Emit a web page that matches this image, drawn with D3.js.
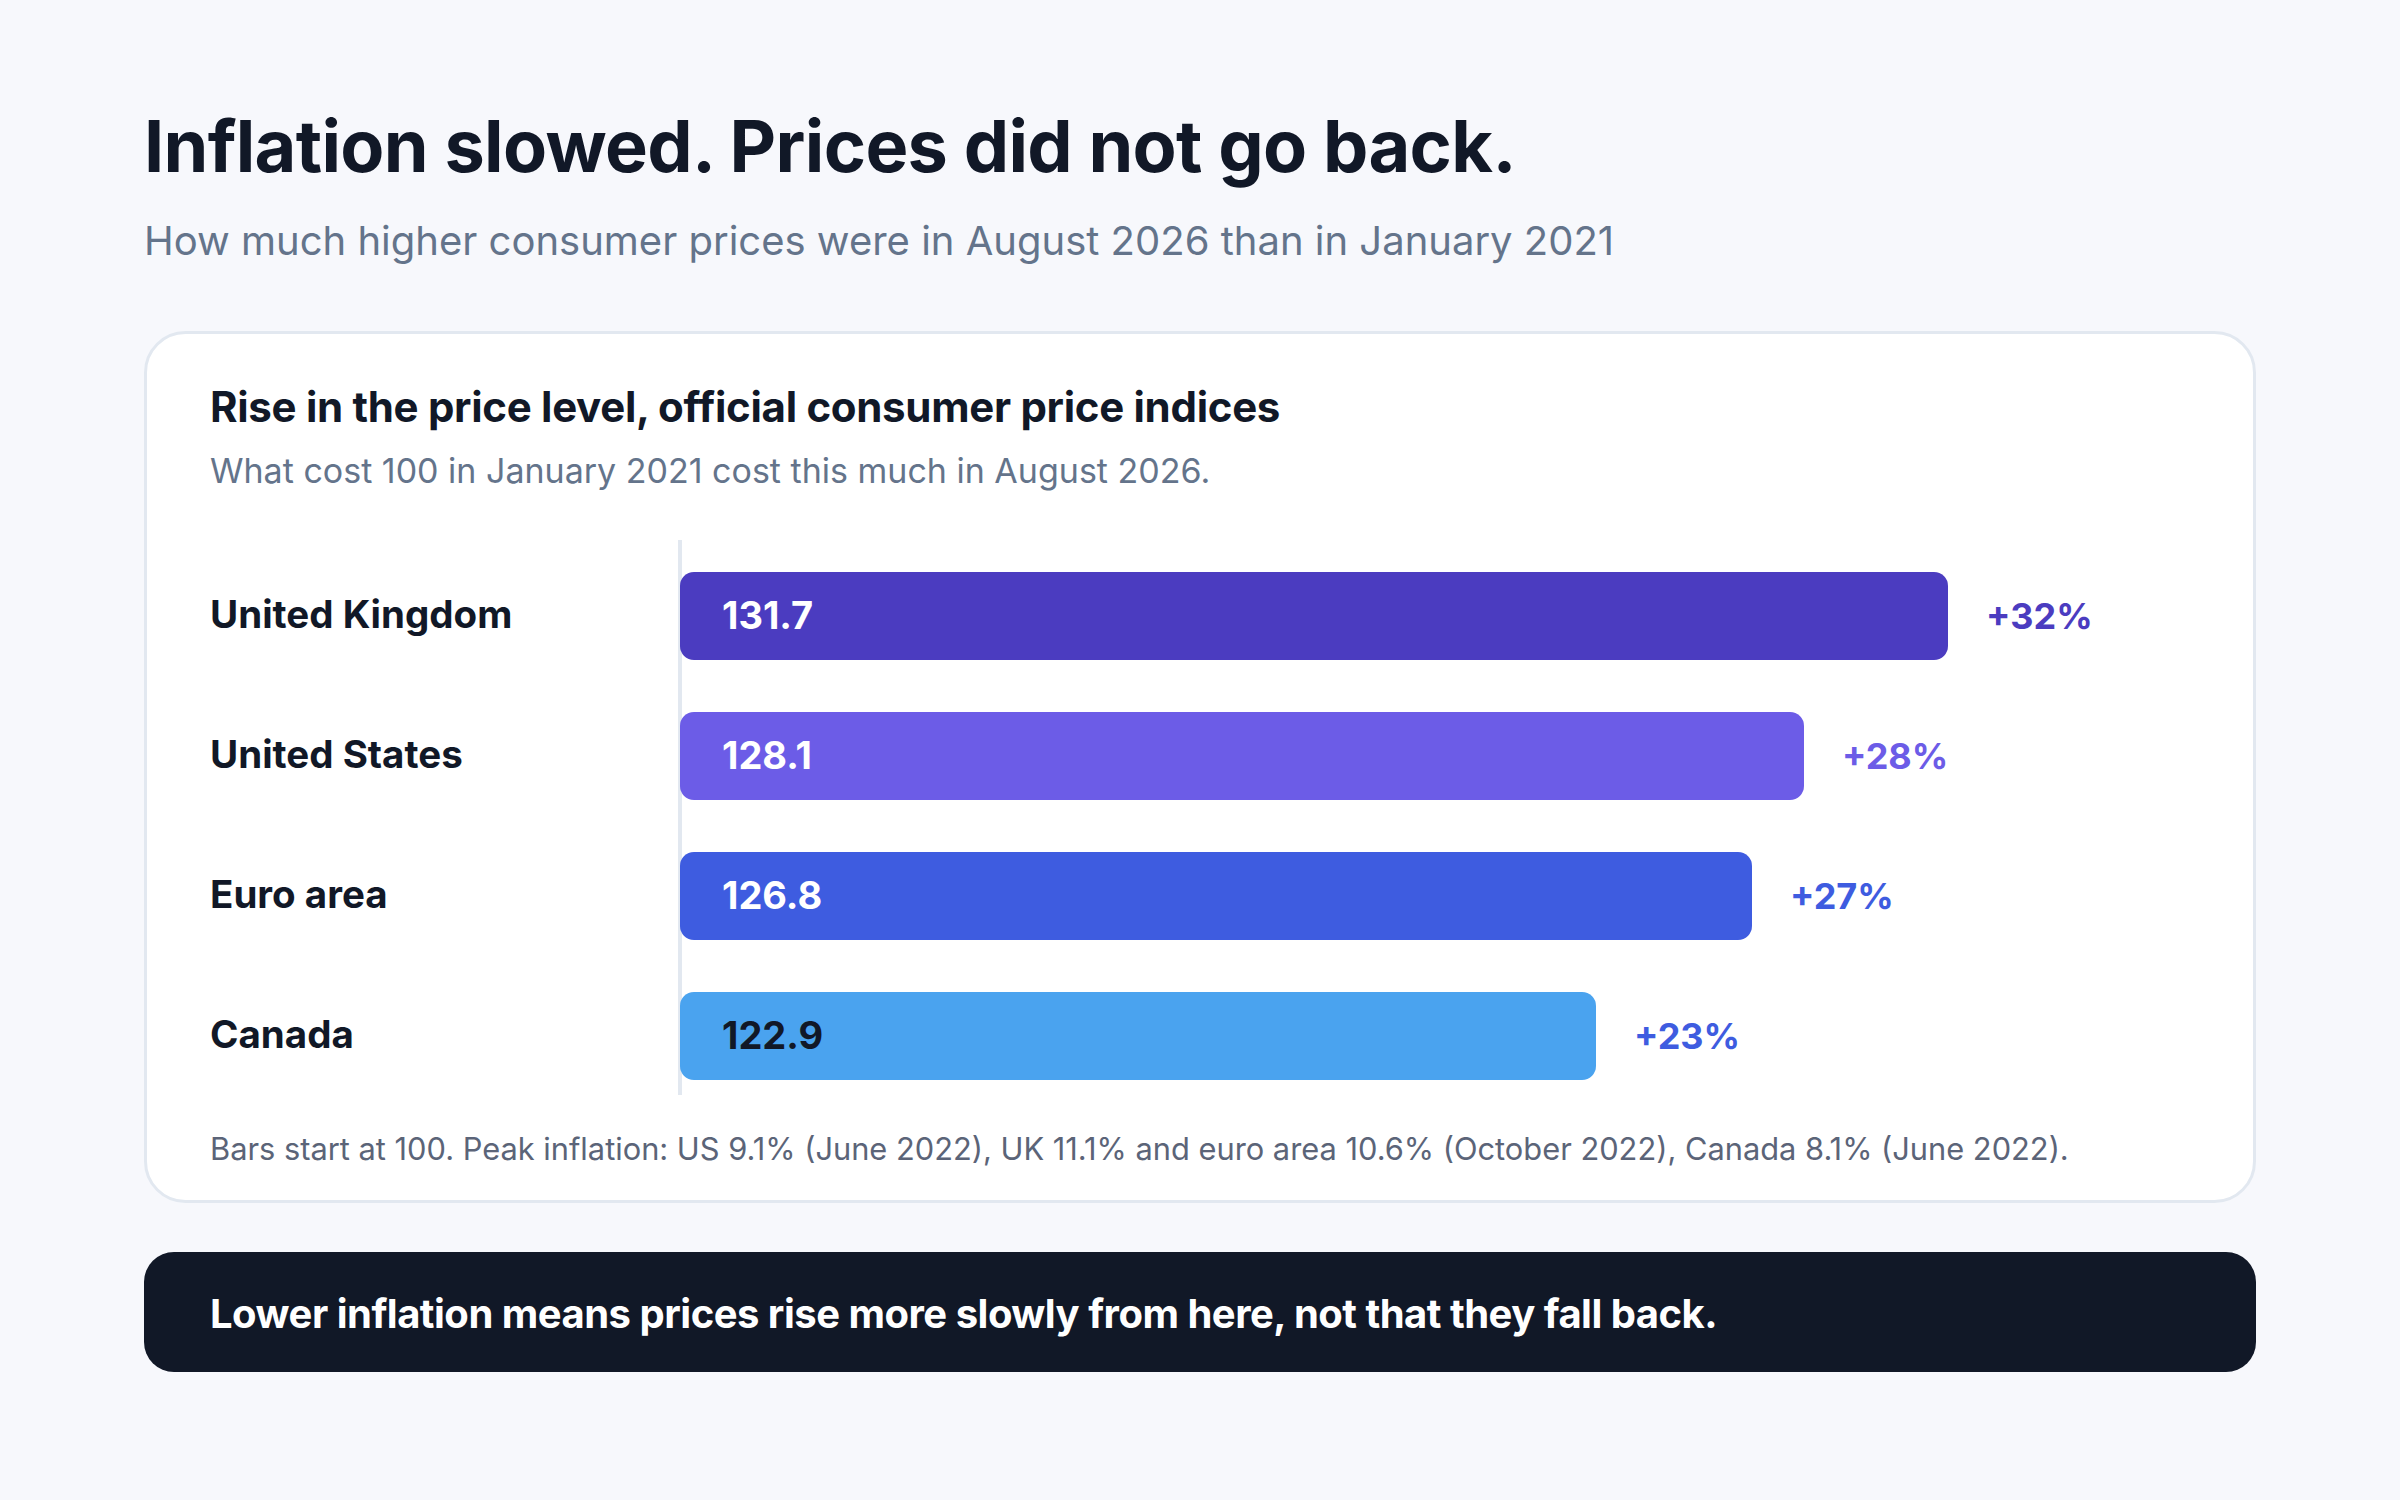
<!DOCTYPE html>
<html lang="en">
<head>
    <meta charset="UTF-8">
    <title>Inflation slowed. Prices did not go back.</title>
    <style>
        body {
            margin: 0;
            background-color: #f7f8fc;
            font-family: Inter, "Noto Sans", sans-serif;
        }
        #chart text {
            font-family: Inter, "Noto Sans", sans-serif;
        }
    </style>
</head>
<body>
    <svg id="chart" width="2400" height="1500"></svg>

    <script src="https://d3js.org/d3.v7.min.js"></script>
    <script>
        // data
        const countries = ["United Kingdom", "United States", "Euro area", "Canada"];
        const indexValues = [131.7, 128.1, 126.8, 122.9];
        const barColors = ["#4b3cc0", "#6c5ce7", "#3e5ce0", "#4aa3ef"];
        const pctColors = ["#4b3cc0", "#6c5ce7", "#3e5ce0", "#3e5ce0"];
        const valueTextColors = ["#ffffff", "#ffffff", "#ffffff", "#111827"];
        const baseValue = 100;

        const title = "Inflation slowed. Prices did not go back.";
        const subtitle = "How much higher consumer prices were in August 2026 than in January 2021";
        const cardTitle = "Rise in the price level, official consumer price indices";
        const cardSubtitle = "What cost 100 in January 2021 cost this much in August 2026.";
        const footnote = "Bars start at 100. Peak inflation: US 9.1% (June 2022), UK 11.1% and euro area 10.6% (October 2022), Canada 8.1% (June 2022).";
        const takeaway = "Lower inflation means prices rise more slowly from here, not that they fall back.";

        const rows = countries.map((c, i) => ({
            country: c,
            value: indexValues[i],
            color: barColors[i],
            pctColor: pctColors[i],
            textColor: valueTextColors[i]
        }));

        const svg = d3.select("#chart");

        // headline
        svg.append("text")
            .attr("x", 144).attr("y", 172)
            .attr("font-size", 72).attr("font-weight", 700)
            .attr("letter-spacing", "-0.65px")
            .attr("fill", "#111827")
            .text(title);

        svg.append("text")
            .attr("x", 144).attr("y", 255)
            .attr("font-size", 40)
            .attr("fill", "#64748b")
            .text(subtitle);

        // card
        svg.append("rect")
            .attr("x", 145.5).attr("y", 332.5)
            .attr("width", 2109).attr("height", 869)
            .attr("rx", 40)
            .attr("fill", "#ffffff")
            .attr("stroke", "#e2e8f0")
            .attr("stroke-width", 3);

        svg.append("text")
            .attr("x", 210).attr("y", 422)
            .attr("font-size", 42).attr("font-weight", 700)
            .attr("letter-spacing", "-0.3px")
            .attr("fill", "#111827")
            .text(cardTitle);

        svg.append("text")
            .attr("x", 210).attr("y", 483)
            .attr("font-size", 34)
            .attr("fill", "#64748b")
            .text(cardSubtitle);

        // scales
        const x = d3.scaleLinear()
            .domain([baseValue, 135])
            .range([680, 2080]);

        const y = d3.scaleBand()
            .domain(countries)
            .range([546, 1106])
            .paddingInner(0.3714)
            .paddingOuter(0.1857);

        // baseline at 100
        svg.append("line")
            .attr("x1", x(baseValue)).attr("x2", x(baseValue))
            .attr("y1", 540).attr("y2", 1095)
            .attr("stroke", "#e2e8f0")
            .attr("stroke-width", 4);

        const g = svg.append("g");

        g.selectAll("rect.bar")
            .data(rows)
            .join("rect")
            .attr("class", "bar")
            .attr("x", x(baseValue))
            .attr("y", d => y(d.country))
            .attr("width", d => x(d.value) - x(baseValue))
            .attr("height", y.bandwidth())
            .attr("rx", 14)
            .attr("fill", d => d.color);

        g.selectAll("text.country")
            .data(rows)
            .join("text")
            .attr("class", "country")
            .attr("x", 210)
            .attr("y", d => y(d.country) + y.bandwidth() / 2 + 12)
            .attr("font-size", 38.5).attr("font-weight", 700)
            .attr("fill", "#111827")
            .text(d => d.country);

        g.selectAll("text.value")
            .data(rows)
            .join("text")
            .attr("class", "value")
            .attr("x", x(baseValue) + 42)
            .attr("y", d => y(d.country) + y.bandwidth() / 2 + 13)
            .attr("font-size", 38).attr("font-weight", 700)
            .attr("fill", d => d.textColor)
            .text(d => d.value.toFixed(1));

        g.selectAll("text.pct")
            .data(rows)
            .join("text")
            .attr("class", "pct")
            .attr("x", d => x(d.value) + 38)
            .attr("y", d => y(d.country) + y.bandwidth() / 2 + 13)
            .attr("font-size", 36).attr("font-weight", 700)
            .attr("fill", d => d.pctColor)
            .text(d => "+" + Math.round(d.value - baseValue) + "%");

        svg.append("text")
            .attr("x", 210).attr("y", 1160)
            .attr("font-size", 30.8)
            .attr("fill", "#5b6478")
            .text(footnote);

        // takeaway box
        svg.append("rect")
            .attr("x", 144).attr("y", 1252)
            .attr("width", 2112).attr("height", 120)
            .attr("rx", 30)
            .attr("fill", "#111827");

        svg.append("text")
            .attr("x", 210).attr("y", 1328)
            .attr("font-size", 40).attr("font-weight", 700)
            .attr("letter-spacing", "-0.5px")
            .attr("fill", "#ffffff")
            .text(takeaway);
    </script>
</body>
</html>
